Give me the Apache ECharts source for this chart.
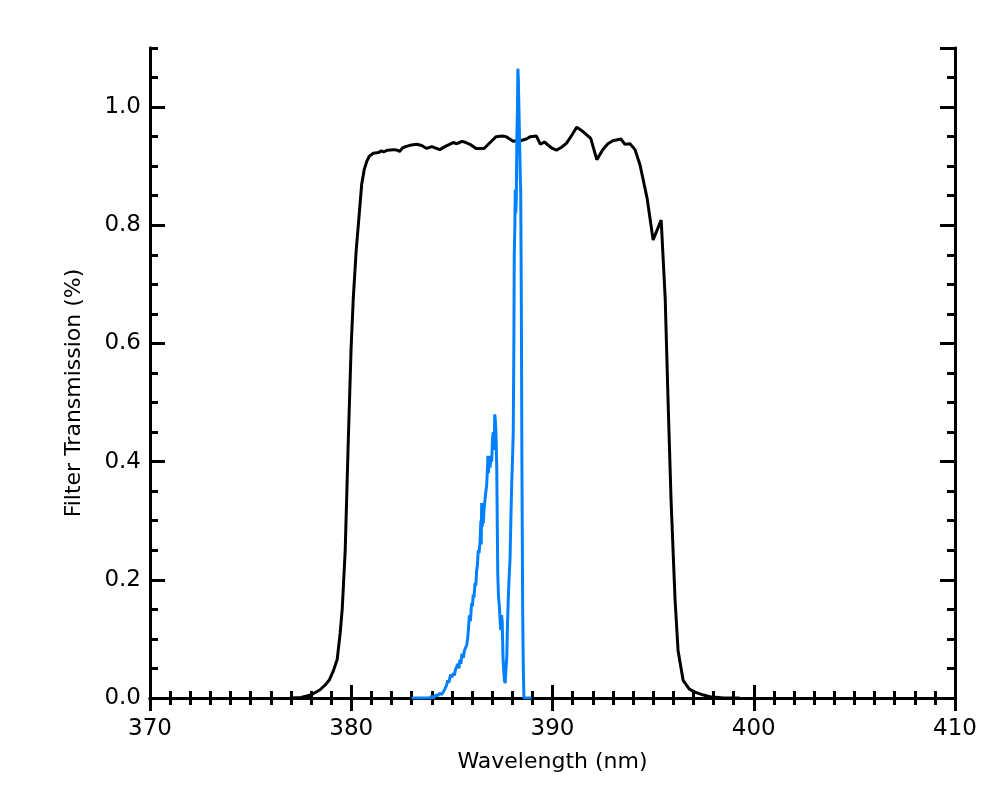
<!DOCTYPE html>
<html>
<head>
<meta charset="utf-8">
<script src="https://cdn.jsdelivr.net/npm/echarts@6/dist/echarts.min.js"></script>
<style>
html,body{margin:0;padding:0;background:#fff;}
#chart{width:1000px;height:800px;}
</style>
</head>
<body>
<div id="chart"></div>
<script>
// Filter transmission curve (black)
const filterWave = [377.0,377.5,378.0,378.45,378.7,378.9,379.1,379.3,379.45,379.55,379.7,379.84,379.99,380.1,380.25,380.35,380.52,380.65,380.77,380.9,381.1,381.35,381.5,381.6,381.8,382.1,382.3,382.4,382.55,382.7,383.0,383.25,383.5,383.75,384.0,384.1,384.4,384.7,385.07,385.25,385.5,385.7,385.9,386.2,386.6,386.9,387.2,387.5,387.7,388.05,388.2,388.4,388.7,388.9,389.2,389.4,389.6,389.8,390.0,390.2,390.45,390.7,390.95,391.2,391.5,391.9,392.2,392.5,392.75,393.0,393.4,393.6,393.85,394.1,394.35,394.7,395.0,395.4,395.6,395.74,395.89,396.09,396.24,396.49,396.8,397.08,397.5,397.83,398.5,399.3];
const filterTrans = [0.0,0.001,0.005,0.014,0.022,0.03,0.045,0.065,0.11,0.15,0.25,0.42,0.59,0.676,0.76,0.80,0.87,0.895,0.908,0.917,0.922,0.923,0.926,0.924,0.927,0.928,0.927,0.925,0.931,0.933,0.936,0.937,0.935,0.930,0.933,0.932,0.928,0.934,0.940,0.938,0.942,0.940,0.937,0.930,0.930,0.940,0.950,0.951,0.950,0.942,0.943,0.943,0.946,0.950,0.951,0.937,0.941,0.935,0.930,0.927,0.932,0.939,0.952,0.966,0.959,0.947,0.911,0.928,0.938,0.943,0.946,0.937,0.938,0.928,0.902,0.846,0.775,0.809,0.676,0.506,0.336,0.166,0.08,0.03,0.015,0.01,0.005,0.002,0.0,0.0];

// Spectrum (blue)
const specWave = [383.0,383.3,383.6,383.9,384.0,384.1,384.2,384.3,384.4,384.5,384.57,384.65,384.74,384.8,384.85,384.9,384.95,385.0,385.07,385.12,385.18,385.24,385.3,385.35,385.4,385.45,385.5,385.57,385.62,385.68,385.74,385.78,385.82,385.87,385.92,385.98,386.02,386.06,386.1,386.15,386.19,386.23,386.27,386.31,386.35,386.4,386.44,386.46,386.48,386.51,386.54,386.56,386.6,386.65,386.69,386.73,386.77,386.79,386.81,386.85,386.9,386.94,386.98,387.02,387.06,387.1,387.13,387.16,387.19,387.23,387.26,387.28,387.32,387.36,387.4,387.43,387.47,387.5,387.54,387.57,387.61,387.65,387.69,387.73,387.76,387.8,387.84,387.89,387.93,387.97,388.01,388.05,388.08,388.1,388.13,388.15,388.17,388.2,388.23,388.26,388.28,388.3,388.33,388.36,388.4,388.42,388.45,388.48,388.52,388.55,388.58,388.96];
const specTrans = [0,0,0,0,0.003,0,0.005,0.004,0.008,0.006,0.01,0.015,0.022,0.03,0.026,0.034,0.04,0.035,0.042,0.038,0.048,0.045,0.058,0.05,0.065,0.058,0.075,0.068,0.08,0.078,0.09,0.1,0.115,0.14,0.13,0.16,0.155,0.175,0.17,0.195,0.19,0.215,0.225,0.25,0.245,0.265,0.30,0.26,0.33,0.29,0.31,0.295,0.32,0.32,0.35,0.36,0.39,0.41,0.38,0.40,0.39,0.41,0.40,0.44,0.45,0.42,0.48,0.47,0.45,0.39,0.28,0.21,0.17,0.155,0.13,0.115,0.14,0.13,0.07,0.05,0.03,0.025,0.05,0.07,0.12,0.165,0.20,0.235,0.30,0.36,0.40,0.45,0.60,0.75,0.80,0.86,0.82,0.84,0.95,1.0,1.065,1.05,1.0,0.95,0.88,0.86,0.68,0.4,0.14,0.05,0,0];

const xMin = 370, xMax = 410, xStep = 10;
const yMin = 0, yMax = 1.1, yStep = 0.2, yMinorStep = 0.05;

const FONT = 'DejaVu Sans';
const chart = echarts.init(document.getElementById('chart'), null, {renderer: 'canvas'});

const lineCol = '#000';
const axisLine = {show: true, lineStyle: {color: lineCol, width: 3}};

function xAx(pos, labels) {
  return {
    type: 'value', position: pos, min: xMin, max: xMax, interval: xStep,
    axisLine: axisLine,
    axisTick: {show: true, inside: true, length: 13, lineStyle: {color: lineCol, width: 3}},
    minorTick: {show: true, splitNumber: 10, length: 7, lineStyle: {color: lineCol, width: 3}},
    splitLine: {show: false},
    axisLabel: {show: labels, margin: 20, color: '#000', fontFamily: FONT, fontSize: 23},
    name: labels ? 'Wavelength (nm)' : '',
    nameLocation: 'middle', nameGap: 53,
    nameTextStyle: {color: '#000', fontFamily: FONT, fontSize: 22}
  };
}
function yAx(pos, step, len, labels) {
  return {
    type: 'value', position: pos, min: yMin, max: yMax, interval: step,
    axisLine: axisLine,
    axisTick: {show: true, inside: true, length: len, lineStyle: {color: lineCol, width: 3}},
    splitLine: {show: false},
    axisLabel: {show: labels, margin: 9, color: '#000', fontFamily: FONT, fontSize: 23,
      showMaxLabel: false, formatter: v => v.toFixed(1)}
  };
}

const filterData = filterWave.map((w, i) => [w, filterTrans[i]]);
const specData = specWave.map((w, i) => [w, specTrans[i]]);

chart.setOption({
  animation: false,
  backgroundColor: '#fff',
  grid: {left: 150, right: 45, top: 48, bottom: 102, containLabel: false},
  xAxis: [xAx('bottom', true), xAx('top', false)],
  yAxis: [
    yAx('left', yStep, 15, true),
    yAx('left', yMinorStep, 8, false),
    yAx('right', yStep, 15, false),
    yAx('right', yMinorStep, 8, false)
  ],
  graphic: [{
    type: 'text', x: 74, y: 393,
    rotation: Math.PI / 2,
    style: {text: 'Filter Transmission (%)', fill: '#000', font: '22px "DejaVu Sans"',
      align: 'center', verticalAlign: 'middle'}
  }],
  series: [
    {type: 'line', xAxisIndex: 0, yAxisIndex: 0, data: filterData, showSymbol: false,
     lineStyle: {color: '#000', width: 3}, z: 2},
    {type: 'line', xAxisIndex: 0, yAxisIndex: 0, data: specData, showSymbol: false,
     lineStyle: {color: '#0080ff', width: 3}, z: 3}
  ]
});
</script>
</body>
</html>
